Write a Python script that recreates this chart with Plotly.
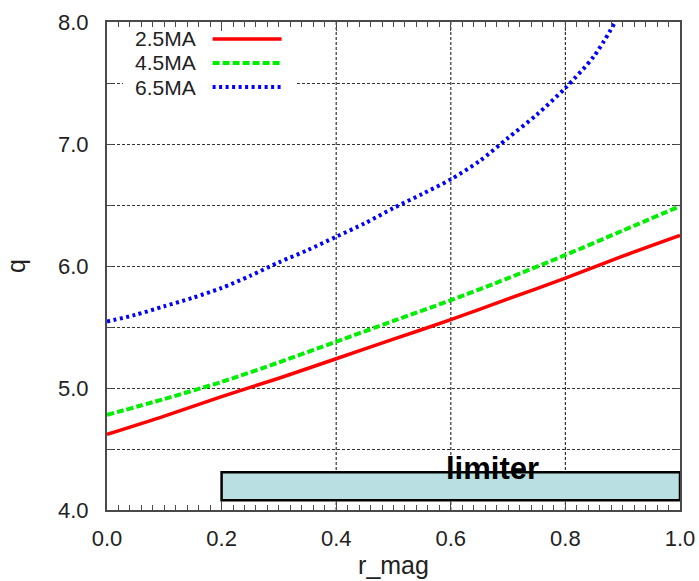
import plotly.graph_objects as go

# ---- data ----
series_names = ["2.5MA", "4.5MA", "6.5MA"]
series_colors = ["#ff0000", "#00ee00", "#0000ff"]

x_red = [0.0, 0.1, 0.2, 0.3, 0.4, 0.5, 0.6, 0.7, 0.8, 0.9, 1.0]
q_red = [4.62, 4.77, 4.93, 5.08, 5.24, 5.40, 5.56, 5.73, 5.90, 6.08, 6.25]

x_green = [0.0, 0.1, 0.2, 0.3, 0.4, 0.5, 0.6, 0.7, 0.8, 0.9, 1.0]
q_green = [4.78, 4.91, 5.05, 5.21, 5.38, 5.55, 5.72, 5.90, 6.09, 6.29, 6.49]

x_blue = [0.0, 0.05, 0.1, 0.15, 0.2, 0.25, 0.3, 0.35, 0.4, 0.45, 0.5,
          0.55, 0.6, 0.65, 0.7, 0.75, 0.8, 0.85, 0.887]
q_blue = [5.545, 5.60, 5.67, 5.74, 5.82, 5.92, 6.03, 6.13, 6.24, 6.35, 6.475,
          6.59, 6.71, 6.86, 7.05, 7.24, 7.46, 7.72, 8.0]

x_tick_vals = [0.0, 0.2, 0.4, 0.6, 0.8, 1.0]
x_tick_text = ["0.0", "0.2", "0.4", "0.6", "0.8", "1.0"]
x_grid_vals = [0.4, 0.6, 0.8]
y_tick_vals = [4.0, 4.5, 5.0, 5.5, 6.0, 6.5, 7.0, 7.5, 8.0]
y_tick_text = ["4.0", "", "5.0", "", "6.0", "", "7.0", "", "8.0"]

limiter_x = [0.2, 1.0]
limiter_q = [4.08, 4.31]
limiter_label = "limiter"

FONT = "Liberation Sans, Arial, sans-serif"
AXC = "#4a4a4a"
GRIDC = "#333333"

fig = go.Figure()
xs = [x_red, x_green, x_blue]
qs = [q_red, q_green, q_blue]
dashes = ["solid", "7px,3px", "3px,3.5px"]
widths = [3.5, 4, 4]
for name, c, x, q, d, w in zip(series_names, series_colors, xs, qs, dashes, widths):
    fig.add_trace(go.Scatter(x=x, y=q, mode="lines", name=name,
                             line=dict(color=c, width=w, dash=d, shape="spline", smoothing=0.8),
                             showlegend=False))

shapes = []
# vertical grid lines (only at interior ticks)
for gx in x_grid_vals:
    shapes.append(dict(type="line", xref="x", yref="y", x0=gx, x1=gx, y0=4.0, y1=8.0,
                       layer="below", line=dict(color=GRIDC, width=1.2, dash="3px,2px")))
# limiter box
shapes.append(dict(type="rect", xref="x", yref="y", x0=limiter_x[0], x1=limiter_x[1],
                   y0=limiter_q[0], y1=limiter_q[1], layer="between",
                   fillcolor="#b9dfe2", line=dict(color="#000000", width=2.5)))
# legend white background
shapes.append(dict(type="rect", xref="x", yref="y", x0=0.028, x1=0.33, y0=7.37, y1=8.0,
                   layer="between", fillcolor="white", line=dict(width=0)))

annotations = []
row_y = [0.9652, 0.9160, 0.8668]
for name, c, d, w, ry in zip(series_names, series_colors, dashes, widths, row_y):
    annotations.append(dict(xref="paper", yref="paper", x=0.158, y=ry, text=name,
                            showarrow=False, xanchor="right", yanchor="middle",
                            font=dict(family=FONT, size=21, color="#222222")))
    shapes.append(dict(type="line", xref="paper", yref="paper", x0=0.1843, x1=0.3047,
                       y0=ry, y1=ry, layer="above",
                       line=dict(color=c, width=w, dash=d)))

annotations.append(dict(xref="x", yref="y", x=0.673, y=4.34, text="<b>" + limiter_label + "</b>",
                        showarrow=False, xanchor="center", yanchor="middle",
                        font=dict(family=FONT, size=31, color="#000000")))

fig.update_layout(
    width=699, height=581,
    margin=dict(l=107, r=19, t=22, b=71),
    paper_bgcolor="white", plot_bgcolor="white",
    showlegend=False,
    shapes=shapes, annotations=annotations,
    font=dict(family=FONT, size=22, color="#222222"),
    xaxis=dict(range=[0, 1], tickvals=x_tick_vals, ticktext=x_tick_text,
               showgrid=False, zeroline=False, showline=True, linecolor=AXC, linewidth=2,
               mirror="allticks", ticks="inside", ticklen=9, tickcolor=AXC, tickwidth=1.2,
               ticklabelstandoff=8,
               minor=dict(dtick=0.02, ticks="inside", ticklen=5, tickcolor=AXC, tickwidth=1.2,
                          showgrid=False),
               tickfont=dict(family=FONT, size=22, color="#222222"),
               title=dict(text="r_mag", standoff=6,
                          font=dict(family=FONT, size=25, color="#222222")),
               automargin=False),
    yaxis=dict(range=[4, 8], tickvals=y_tick_vals, ticktext=y_tick_text,
               showgrid=True, gridcolor=GRIDC, gridwidth=1.2, griddash="3px,2px",
               zeroline=False, showline=True, linecolor=AXC, linewidth=2,
               mirror="allticks", ticks="inside", ticklen=6, tickcolor=AXC, tickwidth=1.2,
               ticklabelstandoff=12,
               tickfont=dict(family=FONT, size=22, color="#222222"),
               title=dict(text="q", standoff=25,
                          font=dict(family=FONT, size=25, color="#222222")),
               automargin=False),
)

fig.write_html("out.html")
